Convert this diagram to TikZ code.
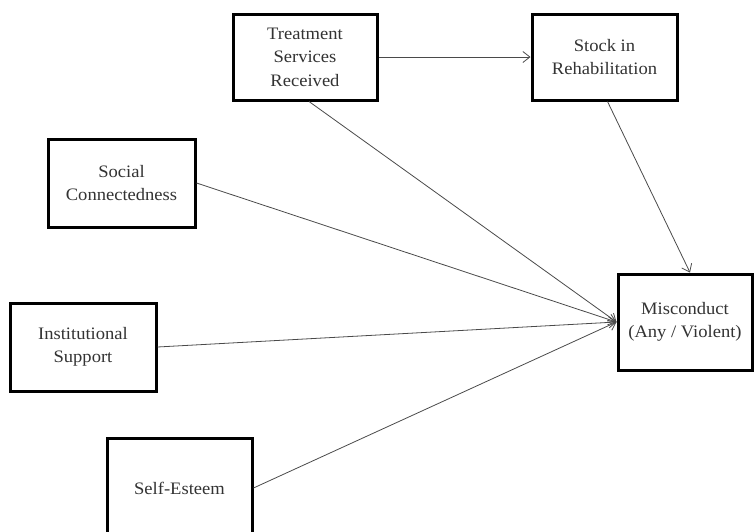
\documentclass[tikz,border=0pt]{standalone}
\usepackage{fontspec}
\setmainfont{Liberation Serif}[FakeStretch=1.06]
\usetikzlibrary{arrows.meta}
\definecolor{txt}{HTML}{333333}
\definecolor{conn}{HTML}{4A4A4A}
\tikzset{
  varbox/.style={draw=black, line width=3pt, fill=white, align=center,
    text=txt, font=\fontsize{17.5}{23.5}\selectfont, inner sep=0pt},
  path/.style={draw=conn, line width=0.8pt,
    -{Straight Barb[length=7pt,width=11pt,line width=0.8pt]}}
}
\begin{document}
\begin{tikzpicture}[x=1pt,y=-1pt]
\useasboundingbox (0,0) rectangle (756,531);
\node[varbox, minimum width=144pt, minimum height=86pt] (treat) at (305,57) {Treatment\\Services\\Received};
\node[varbox, minimum width=145pt, minimum height=86pt] (stock) at (604.5,57) {Stock in\\Rehabilitation};
\node[varbox, minimum width=147pt, minimum height=88pt] (social) at (121.5,183) {Social\\Connectedness};
\node[varbox, minimum width=146pt, minimum height=88pt] (inst) at (83,347) {Institutional\\Support};
\node[varbox, minimum width=145pt, minimum height=100pt] (self) at (179.5,488) {Self-Esteem};
\node[varbox, minimum width=134pt, minimum height=96pt] (misc) at (685,322) {Misconduct\\(Any / Violent)};
\draw[path] (treat.east) -- (stock.west);
\draw[path] ([xshift=4pt]treat.south) -- (misc.west);
\draw[path] ([xshift=3pt]stock.south) -- ([xshift=5pt]misc.north);
\draw[path] (social.east) -- (misc.west);
\draw[path] (inst.east) -- (misc.west);
\draw[path] (self.east) -- (misc.west);
\end{tikzpicture}
\end{document}
